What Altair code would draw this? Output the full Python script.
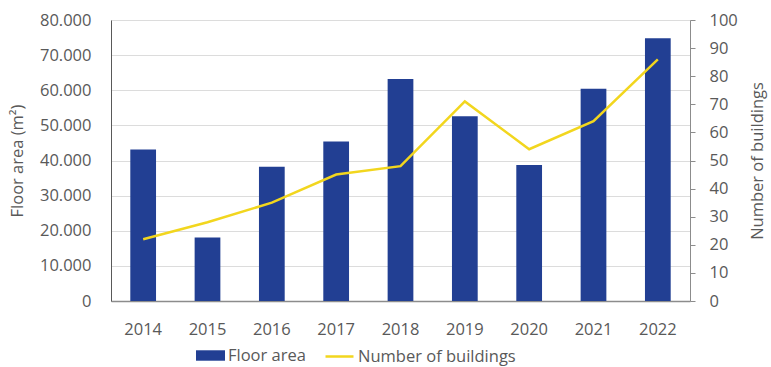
import altair as alt
import pandas as pd

years = ["2014", "2015", "2016", "2017", "2018", "2019", "2020", "2021", "2022"]
floor_area = [43100, 18100, 38200, 45400, 63200, 52600, 38700, 60400, 74800]
buildings = [22, 28, 35, 45, 48, 71, 54, 64, 86]

df = pd.DataFrame({
    "year": years,
    "floor": floor_area,
    "buildings": buildings,
    "s1": ["Floor area"] * len(years),
    "s2": ["Number of buildings"] * len(years),
})

FONT = "Open Sans"
GRAY = "#595959"
BLUE = "#223F93"
YELLOW = "#F2D61E"

x = alt.X("year:N", title=None,
          scale=alt.Scale(paddingInner=0.6, paddingOuter=0.3),
          axis=alt.Axis(labelAngle=0, labelFontSize=16.5, labelColor=GRAY, labelFont=FONT,
                        labelPadding=20, ticks=False, domainColor="#8c8c8c", domainWidth=1.5))

bars = alt.Chart(df).mark_bar(color=BLUE).encode(
    x=x,
    y=alt.Y("floor:Q", title="Floor area (m²)",
            scale=alt.Scale(domain=[0, 80000], nice=False),
            axis=alt.Axis(values=[0, 10000, 20000, 30000, 40000, 50000, 60000, 70000, 80000],
                          labelExpr="replace(format(datum.value, ','), ',', '.')",
                          labelFontSize=16.5, labelColor=GRAY, labelFont=FONT, labelPadding=20,
                          ticks=False, domainColor="#595959", domainWidth=1,
                          grid=True, gridColor="#dcdcdc", gridWidth=1.2,
                          titleFontSize=16.5, titleColor=GRAY, titleFont=FONT, titleFontWeight="normal",
                          titlePadding=14)),
    fill=alt.Fill("s1:N", scale=alt.Scale(domain=["Floor area"], range=[BLUE]),
                  legend=alt.Legend(title=None, orient="none", legendX=85, legendY=321,
                                    symbolType="M-1,-0.36H1V0.36H-1Z", symbolSize=841,
                                    symbolStrokeWidth=0, labelFontSize=16.5, labelColor=GRAY,
                                    labelFont=FONT, labelOffset=3, padding=0)),
)

line = alt.Chart(df).mark_line(color=YELLOW, strokeWidth=2.5).encode(
    x=x,
    y=alt.Y("buildings:Q", title="Number of buildings",
            scale=alt.Scale(domain=[0, 100], nice=False),
            axis=alt.Axis(orient="right", values=list(range(0, 101, 10)),
                          labelFontSize=16.5, labelColor=GRAY, labelFont=FONT, labelPadding=14,
                          tickSize=5, tickColor="#8c8c8c", domainColor="#8c8c8c", domainWidth=1,
                          grid=False, titleAngle=270,
                          titleFontSize=16.5, titleColor=GRAY, titleFont=FONT, titleFontWeight="normal",
                          titlePadding=28)),
    stroke=alt.Stroke("s2:N", scale=alt.Scale(domain=["Number of buildings"], range=[YELLOW]),
                      legend=alt.Legend(title=None, orient="none", legendX=213, legendY=321,
                                        symbolType="stroke", symbolSize=784, symbolStrokeWidth=2.5,
                                        labelFontSize=16.5, labelColor=GRAY, labelFont=FONT,
                                        labelOffset=3, padding=0)),
)

chart = alt.layer(bars, line).resolve_scale(y="independent", fill="independent", stroke="independent").properties(
    width=579, height=281,
    padding={"left": 111, "top": 20, "right": 81, "bottom": 66},
    autosize=alt.AutoSizeParams(type="none"),
).configure_view(stroke=None).configure(background="white")

chart.save("out.html", embed_options={"renderer": "svg", "actions": False})
